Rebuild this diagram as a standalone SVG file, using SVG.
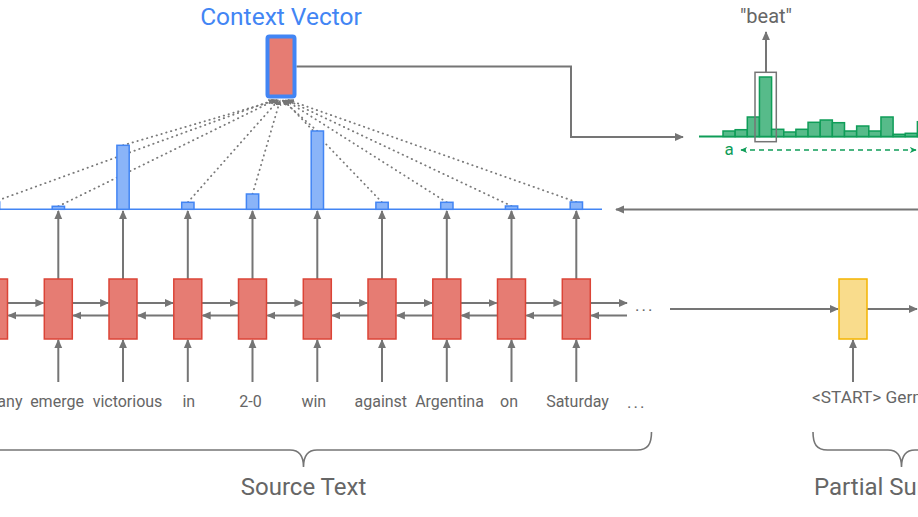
<svg xmlns="http://www.w3.org/2000/svg" width="918" height="517" viewBox="0 0 918 517">
<defs>
<style>
.txt{font-family:Roboto,"Liberation Sans",sans-serif;fill:#666666}
.word{font-size:16px;text-anchor:middle}
.lstm{fill:#E67C73;stroke:#DB4437;stroke-width:1.5}
.att{fill:#8AB4F8;stroke:#4285F4;stroke-width:1.5}
.vocab{fill:#57BB8A;stroke:#0F9D58;stroke-width:1.5}
.conn{stroke:#757575;stroke-width:2;fill:none}
.dot{stroke:#7a7a7a;stroke-width:1.8;fill:none;stroke-linecap:round;stroke-dasharray:0.4 4.6}
.brace{stroke:#757575;stroke-width:1.6;fill:none}
</style>
<marker id="arr" viewBox="0 0 10 10" refX="9" refY="5" markerWidth="9" markerHeight="9" markerUnits="userSpaceOnUse" orient="auto"><path d="M0,0.6 L10,5 L0,9.4 z" fill="#757575"/></marker>
<marker id="arrs" viewBox="0 0 10 10" refX="9" refY="5" markerWidth="6" markerHeight="6" markerUnits="userSpaceOnUse" orient="auto"><path d="M0,0.5 L10,5 L0,9.5 z" fill="#757575"/></marker>
<marker id="arrg" viewBox="0 0 10 10" refX="9" refY="5" markerWidth="7" markerHeight="7" markerUnits="userSpaceOnUse" orient="auto-start-reverse"><path d="M0,0.5 L10,5 L0,9.5 L3,5 z" fill="#0F9D58"/></marker>
</defs>
<rect width="918" height="517" fill="#ffffff"/>

<g id="connectors">
  <g class="conn" marker-end="url(#arr)">
    <line x1="-6.5" y1="382" x2="-6.5" y2="340"/>
    <line x1="58.3" y1="382" x2="58.3" y2="340"/>
    <line x1="123" y1="382" x2="123" y2="340"/>
    <line x1="187.8" y1="382" x2="187.8" y2="340"/>
    <line x1="252.5" y1="382" x2="252.5" y2="340"/>
    <line x1="317.3" y1="382" x2="317.3" y2="340"/>
    <line x1="382" y1="382" x2="382" y2="340"/>
    <line x1="446.8" y1="382" x2="446.8" y2="340"/>
    <line x1="511.5" y1="382" x2="511.5" y2="340"/>
    <line x1="576.3" y1="382" x2="576.3" y2="340"/>
    <line x1="853" y1="382" x2="853" y2="340"/>
    <line x1="-6.5" y1="279" x2="-6.5" y2="211"/>
    <line x1="58.3" y1="279" x2="58.3" y2="211"/>
    <line x1="123" y1="279" x2="123" y2="211"/>
    <line x1="187.8" y1="279" x2="187.8" y2="211"/>
    <line x1="252.5" y1="279" x2="252.5" y2="211"/>
    <line x1="317.3" y1="279" x2="317.3" y2="211"/>
    <line x1="382" y1="279" x2="382" y2="211"/>
    <line x1="446.8" y1="279" x2="446.8" y2="211"/>
    <line x1="511.5" y1="279" x2="511.5" y2="211"/>
    <line x1="576.3" y1="279" x2="576.3" y2="211"/>
    <line x1="7.5" y1="303" x2="43.5" y2="303"/>
    <line x1="72.3" y1="303" x2="108.2" y2="303"/>
    <line x1="137" y1="303" x2="173" y2="303"/>
    <line x1="201.8" y1="303" x2="237.7" y2="303"/>
    <line x1="266.5" y1="303" x2="302.5" y2="303"/>
    <line x1="331.3" y1="303" x2="367.2" y2="303"/>
    <line x1="396" y1="303" x2="432" y2="303"/>
    <line x1="460.8" y1="303" x2="496.7" y2="303"/>
    <line x1="525.5" y1="303" x2="561.5" y2="303"/>
    <line x1="590.3" y1="303" x2="627" y2="303"/>
    <line x1="44.3" y1="315.5" x2="8.3" y2="315.5"/>
    <line x1="109" y1="315.5" x2="73.1" y2="315.5"/>
    <line x1="173.8" y1="315.5" x2="137.8" y2="315.5"/>
    <line x1="238.5" y1="315.5" x2="202.6" y2="315.5"/>
    <line x1="303.3" y1="315.5" x2="267.3" y2="315.5"/>
    <line x1="368" y1="315.5" x2="332.1" y2="315.5"/>
    <line x1="432.8" y1="315.5" x2="396.8" y2="315.5"/>
    <line x1="497.5" y1="315.5" x2="461.6" y2="315.5"/>
    <line x1="562.3" y1="315.5" x2="526.3" y2="315.5"/>
    <line x1="627" y1="315.5" x2="591.1" y2="315.5"/>
    <line x1="670" y1="309" x2="838" y2="309"/>
    <line x1="867" y1="309" x2="917" y2="309"/>
    <path d="M296.5,66.5 H571 V137 H683"/>
    <line x1="918" y1="209.5" x2="616" y2="209.5"/>
    <line x1="766" y1="72" x2="766" y2="32"/>
  </g>
  <g class="dot" marker-end="url(#arrs)">
    <line x1="-6.5" y1="202" x2="273.8" y2="100"/>
    <line x1="58.3" y1="206.3" x2="275.4" y2="100"/>
    <line x1="123" y1="145.3" x2="277" y2="100"/>
    <line x1="187.8" y1="202.3" x2="278.6" y2="100"/>
    <line x1="252.5" y1="194" x2="280.2" y2="100"/>
    <line x1="317.3" y1="131" x2="282" y2="100"/>
    <line x1="382" y1="202.3" x2="283.6" y2="100"/>
    <line x1="446.8" y1="202.3" x2="285.2" y2="100"/>
    <line x1="511.5" y1="206" x2="286.8" y2="100"/>
    <line x1="576.3" y1="202" x2="288.4" y2="100"/>
  </g>
  <line x1="741" y1="150" x2="916" y2="150" stroke="#0F9D58" stroke-width="1.5" stroke-dasharray="5 4" marker-start="url(#arrg)" marker-end="url(#arrg)"/>
</g>

<g id="attention-baseline">
  <line x1="0" y1="209.3" x2="602" y2="209.3" stroke="#4285F4" stroke-width="1.5"/>
</g>
<g id="attention-bars">
  <rect class="att" x="-12.6" y="202" width="12.3" height="7.3"/>
  <rect class="att" x="52.2" y="206.3" width="12.3" height="3"/>
  <rect class="att" x="116.9" y="145.3" width="12.3" height="64"/>
  <rect class="att" x="181.7" y="202.3" width="12.3" height="7"/>
  <rect class="att" x="246.4" y="194" width="12.3" height="15.3"/>
  <rect class="att" x="311.2" y="131" width="12.3" height="78.3"/>
  <rect class="att" x="375.9" y="202.3" width="12.3" height="7"/>
  <rect class="att" x="440.7" y="202.3" width="12.3" height="7"/>
  <rect class="att" x="505.4" y="206" width="12.3" height="3.3"/>
  <rect class="att" x="570.2" y="202" width="12.3" height="7.3"/>
</g>

<g id="encoder">
  <g id="enc-germany"><rect class="lstm" x="-20.5" y="279" width="28" height="60"/></g>
  <g id="enc-emerge"><rect class="lstm" x="44.3" y="279" width="28" height="60"/></g>
  <g id="enc-victorious"><rect class="lstm" x="109" y="279" width="28" height="60"/></g>
  <g id="enc-in"><rect class="lstm" x="173.8" y="279" width="28" height="60"/></g>
  <g id="enc-2-0"><rect class="lstm" x="238.5" y="279" width="28" height="60"/></g>
  <g id="enc-win"><rect class="lstm" x="303.3" y="279" width="28" height="60"/></g>
  <g id="enc-against"><rect class="lstm" x="368" y="279" width="28" height="60"/></g>
  <g id="enc-argentina"><rect class="lstm" x="432.8" y="279" width="28" height="60"/></g>
  <g id="enc-on"><rect class="lstm" x="497.5" y="279" width="28" height="60"/></g>
  <g id="enc-saturday"><rect class="lstm" x="562.3" y="279" width="28" height="60"/></g>
  <text class="txt" x="635" y="311" font-size="17" letter-spacing="2">...</text>
</g>

<g id="decoder">
  <rect x="839" y="279" width="28" height="60" fill="#F9DC8C" stroke="#F4B400" stroke-width="1.5"/>
</g>

<g id="context-vector">
  <rect x="267.5" y="36.5" width="27" height="60" rx="2" fill="#E67C73" stroke="#4285F4" stroke-width="4"/>
  <text x="281" y="25" font-family="Roboto,'Liberation Sans',sans-serif" font-size="24.5" fill="#4285F4" text-anchor="middle">Context Vector</text>
</g>

<g id="vocab-distribution">
  <line x1="699" y1="136.5" x2="918" y2="136.5" stroke="#0F9D58" stroke-width="2"/>
  <rect class="vocab" x="723" y="131" width="12.15" height="5.5"/>
  <rect class="vocab" x="735.15" y="129.7" width="12.15" height="6.8"/>
  <rect class="vocab" x="747.3" y="117" width="12.15" height="19.5"/>
  <rect class="vocab" x="759.45" y="77" width="12.15" height="59.5"/>
  <rect class="vocab" x="771.6" y="129.3" width="12.15" height="7.2"/>
  <rect class="vocab" x="783.75" y="132" width="12.15" height="4.5"/>
  <rect class="vocab" x="795.9" y="129.3" width="12.15" height="7.2"/>
  <rect class="vocab" x="808.05" y="122.3" width="12.15" height="14.2"/>
  <rect class="vocab" x="820.2" y="120" width="12.15" height="16.5"/>
  <rect class="vocab" x="832.35" y="122.7" width="12.15" height="13.8"/>
  <rect class="vocab" x="844.5" y="131" width="12.15" height="5.5"/>
  <rect class="vocab" x="856.65" y="126" width="12.15" height="10.5"/>
  <rect class="vocab" x="868.8" y="131" width="12.15" height="5.5"/>
  <rect class="vocab" x="880.95" y="117" width="12.15" height="19.5"/>
  <rect class="vocab" x="893.1" y="134.3" width="12.15" height="2.2"/>
  <rect class="vocab" x="905.25" y="133.3" width="12.15" height="3.2"/>
  <rect class="vocab" x="917.4" y="121.7" width="12.15" height="14.8"/>
  <rect x="755" y="72.3" width="21.3" height="69.4" fill="none" stroke="#757575" stroke-width="1.5"/>
  <text x="729" y="155" font-family="Roboto,'Liberation Sans',sans-serif" font-size="17" fill="#0F9D58" text-anchor="middle">a</text>
  <text class="txt" x="766" y="23" font-size="20" text-anchor="middle">"beat"</text>
</g>

<g id="source-words">
  <text class="txt word" x="-9.5" y="407">Germany</text>
  <text class="txt word" x="57" y="407">emerge</text>
  <text class="txt word" x="127.5" y="407">victorious</text>
  <text class="txt word" x="188.8" y="407">in</text>
  <text class="txt word" x="250.5" y="407">2-0</text>
  <text class="txt word" x="313.8" y="407">win</text>
  <text class="txt word" x="380.8" y="407">against</text>
  <text class="txt word" x="449.5" y="407">Argentina</text>
  <text class="txt word" x="509" y="407">on</text>
  <text class="txt word" x="577.5" y="407">Saturday</text>
  <text class="txt" x="627" y="408" font-size="17" letter-spacing="2">...</text>
</g>

<g id="summary-words">
  <text class="txt" x="812" y="403" font-size="17.3">&lt;START&gt; Germany</text>
</g>

<g id="source-brace">
  <path class="brace" d="M651.5,432 C651.5,444 648,450 637,450 H317 C308,450 303.5,455 303.5,467 C303.5,455 299,450 290,450 H-10"/>
  <text class="txt" x="303.5" y="495" font-size="24" text-anchor="middle">Source Text</text>
</g>

<g id="summary-brace">
  <path class="brace" d="M813,432 C813,444 816.5,450 827.5,450 H888 C897,450 901.5,455 901.5,467 C901.5,455 906,450 915,450 H930"/>
  <text class="txt" x="814" y="495" font-size="24">Partial Summary</text>
</g>
</svg>
